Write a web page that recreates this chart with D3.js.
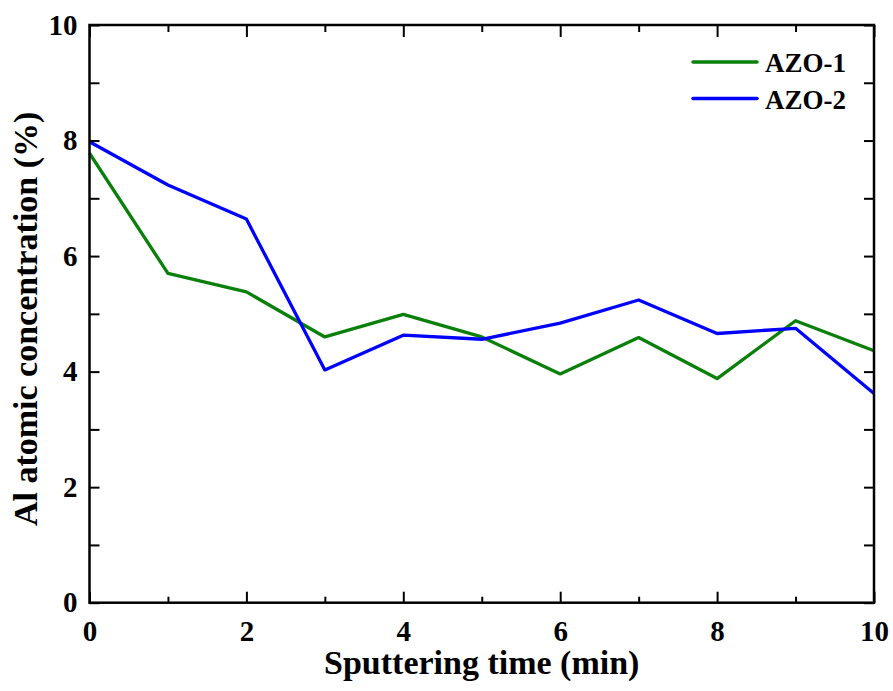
<!DOCTYPE html>
<html>
<head>
<meta charset="utf-8">
<script src="https://cdn.jsdelivr.net/npm/d3@7"></script>
<style>
  body { margin: 0; background: #fff; }
  svg text { font-family: "Liberation Serif", "Times New Roman", serif; font-weight: bold; fill: #000; }
</style>
</head>
<body>
<div class="chart"></div>
<script>
// data
var times = [0, 1, 2, 3, 4, 5, 6, 7, 8, 9, 10];
var azo1 = [7.78, 5.70, 5.38, 4.60, 4.99, 4.60, 3.96, 4.59, 3.88, 4.88, 4.36];
var azo2 = [7.98, 7.23, 6.64, 4.03, 4.63, 4.56, 4.84, 5.24, 4.66, 4.75, 3.62];
var seriesNames = ["AZO-1", "AZO-2"];
var seriesColors = ["#0a800a", "#0000ff"];
var xTicks = [0, 2, 4, 6, 8, 10];
var xMinor = [1, 3, 5, 7, 9];
var yTicks = [0, 2, 4, 6, 8, 10];
var yMinor = [1, 3, 5, 7, 9];

var W = 893, H = 691;
var mLeft = 89.5, mRight = 874, mTop = 25, mBottom = 602.7;

var svg = d3.select(".chart").append("svg")
    .attr("width", W).attr("height", H);

var x = d3.scaleLinear().domain([0, 10]).range([mLeft, mRight]);
var y = d3.scaleLinear().domain([0, 10]).range([mBottom, mTop]);

//lines
var line = d3.line()
    .x(function (d) { return x(d[0]) })
    .y(function (d) { return y(d[1]) });

var series = [azo1, azo2];
series.forEach(function (vals, i) {
    svg.append("path")
        .datum(times.map(function (t, j) { return [t, vals[j]] }))
        .attr("fill", "none")
        .attr("stroke", seriesColors[i])
        .attr("stroke-width", 3.3)
        .attr("stroke-linejoin", "round")
        .attr("d", line);
});

//axes, ticks pointing inward
function styleAxis(g) {
    g.select(".domain").remove();
    g.attr("font-family", null).attr("font-size", null);
    g.selectAll("line").attr("stroke", "#000").attr("stroke-width", 2);
    g.selectAll("text").attr("font-size", "29px");
}

svg.append("g").attr("transform", "translate(0," + mBottom + ")")
    .call(d3.axisBottom(x).tickValues(xTicks).tickSizeInner(-11).tickPadding(18).tickFormat(d3.format("d")))
    .call(styleAxis);
svg.append("g").attr("transform", "translate(0," + mBottom + ")")
    .call(d3.axisBottom(x).tickValues(xMinor).tickSizeInner(-6).tickFormat(""))
    .call(styleAxis);
svg.append("g").attr("transform", "translate(0," + mTop + ")")
    .call(d3.axisTop(x).tickValues(xTicks).tickSizeInner(-12).tickFormat(""))
    .call(styleAxis);
svg.append("g").attr("transform", "translate(0," + mTop + ")")
    .call(d3.axisTop(x).tickValues(xMinor).tickSizeInner(-7).tickFormat(""))
    .call(styleAxis);

svg.append("g").attr("transform", "translate(" + mLeft + ",0)")
    .call(d3.axisLeft(y).tickValues(yTicks).tickSizeInner(-10).tickPadding(12).tickFormat(d3.format("d")))
    .call(styleAxis);
svg.append("g").attr("transform", "translate(" + mLeft + ",0)")
    .call(d3.axisLeft(y).tickValues(yMinor).tickSizeInner(-10).tickFormat(""))
    .call(styleAxis);
svg.append("g").attr("transform", "translate(" + mRight + ",0)")
    .call(d3.axisRight(y).tickValues(yTicks.concat(yMinor)).tickSizeInner(-10).tickFormat(""))
    .call(styleAxis);

//frame
svg.append("rect")
    .attr("x", mLeft).attr("y", mTop)
    .attr("width", mRight - mLeft).attr("height", mBottom - mTop)
    .attr("fill", "none").attr("stroke", "#000").attr("stroke-width", 2.5);

//axis titles
svg.append("text")
    .attr("x", (mLeft + mRight) / 2).attr("y", 674)
    .attr("text-anchor", "middle")
    .attr("font-size", "34px")
    .text("Sputtering time (min)");

svg.append("text")
    .attr("transform", "translate(37," + ((mTop + mBottom) / 2 + 5) + ") rotate(-90)")
    .attr("text-anchor", "middle")
    .attr("font-size", "34px")
    .text("Al atomic concentration (%)");

//legend
var legend = svg.selectAll(".legend")
    .data(seriesNames)
    .enter().append("g")
    .attr("class", "legend")
    .attr("transform", function (d, i) { return "translate(693," + (62 + i * 36.5) + ")" });
legend.append("line")
    .attr("x1", 0).attr("x2", 64)
    .attr("stroke", function (d, i) { return seriesColors[i] })
    .attr("stroke-width", 3.5)
    .attr("stroke-linecap", "round");
legend.append("text")
    .attr("x", 72).attr("y", 10)
    .attr("font-size", "27px")
    .text(function (d) { return d });
</script>
</body>
</html>
